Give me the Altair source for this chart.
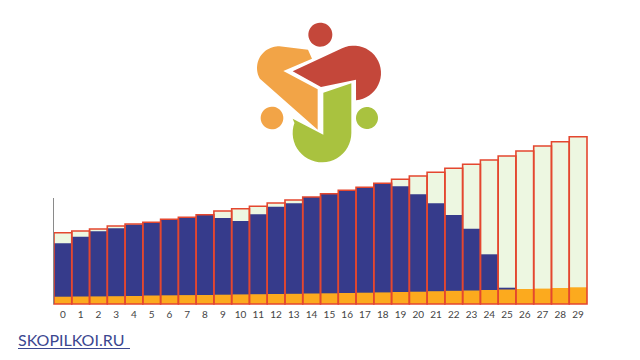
import altair as alt
import numpy as np
import pandas as pd

# ---------------- data (in pixel-like units) -------------
years = list(range(30))
total = [71.3, 73.0, 75.0, 78.0, 80.0, 81.7, 84.7, 86.7, 89.3, 93.0,
         95.3, 97.7, 101.0, 104.0, 107.0, 110.3, 113.7, 116.7, 120.7, 124.7,
         128.0, 131.7, 135.7, 139.7, 144.0, 148.0, 153.0, 158.0, 162.3, 167.3]
blue = [60.7, 67.3, 72.7, 75.7, 79.5, 81.7, 84.7, 86.7, 89.3, 86.0,
        83.0, 89.7, 97.3, 100.7, 107.0, 110.3, 113.7, 116.7, 120.7, 117.7,
        109.7, 100.7, 89.0, 75.3, 49.7, 16.3, 0, 0, 0, 0]
orange = [7.3, 7.5, 7.6, 7.8, 8.0, 8.5, 8.7, 8.9, 9.0, 9.3,
          9.6, 9.8, 10.0, 10.2, 10.5, 10.7, 11.0, 11.3, 11.6, 12.0,
          12.3, 12.8, 13.2, 13.5, 14.0, 14.5, 15.0, 15.4, 16.0, 16.7]

site_text = "SKOPILKOI.RU"

df = pd.DataFrame({"k": years, "total": total, "blue": blue, "orange": orange})
one = pd.DataFrame({"v": [0]})

# ---------------- logo shapes (decoration, sketch units) -------------
CX, CY, H = 322.0, 92.0, 75.0   # logo centre and half span in pixels


def arc(cx, cy, r, a0, a1, n=28):
    a = np.radians(np.linspace(a0, a1, n))
    return list(zip(cx + r * np.cos(a), cy + r * np.sin(a)))


def sub(pts):
    out = []
    for zx, zy in pts:
        px = 252 + zx / 3.0
        py = 18 + zy / 3.0
        out.append(f"{(px - CX) / H:.4f} {(py - CY) / H:.4f}")
    return "M" + " L".join(out) + " Z"


red_pts = ([(122, 160)] + arc(305, 165, 82, -115, 85)
           + [(312, 185), (207, 207)])
orange_pts = ([(168, 95)] + arc(80, 150, 65, -88, -210)
              + [(197, 335), (197, 214), (94, 159), (180, 122)])
green_pts = ([(214, 224), (298, 196), (298, 345)] + arc(210, 345, 88, 0, 200)
             + [(122, 302), (214, 350)])

red_path = sub(red_pts) + " " + sub(arc(205, 50, 36, 0, 360, 40))
orange_path = sub(orange_pts) + " " + sub(arc(60, 300, 34, 0, 360, 40))
green_path = sub(green_pts) + " " + sub(arc(345, 300, 33, 0, 360, 40))

LOGO_X, LOGO_Y = CX - 54, CY - 134
LOGO_SIZE = (2 * H) ** 2


def logo_part(path, color):
    return alt.Chart(one).mark_point(
        shape=path, size=LOGO_SIZE, filled=True, fill=color, opacity=1, strokeOpacity=0
    ).encode(x=alt.value(LOGO_X), y=alt.value(LOGO_Y))


# ---------------- chart -------------
xenc = alt.X(
    "k:O",
    scale=alt.Scale(paddingInner=0, paddingOuter=0),
    axis=alt.Axis(title=None, labelAngle=0, domain=False, ticks=False, grid=False,
                  labelPadding=5, labelFontSize=10, labelColor="#444444", labelFont="Lato"),
)
yscale = alt.Scale(domain=[0, 170], nice=False, zero=True)

base = alt.Chart(df)
green_bars = base.mark_bar(color="#edf7e1").encode(
    x=xenc, y=alt.Y("total:Q", scale=yscale, axis=None))
blue_bars = base.mark_bar(color="#363b8b").encode(
    x=xenc, y=alt.Y("blue:Q", scale=yscale, axis=None))
orange_bars = base.mark_bar(color="#fcaa1e").encode(
    x=xenc, y=alt.Y("orange:Q", scale=yscale, axis=None))
outline = base.mark_bar(fillOpacity=0, stroke="#e4472f", strokeWidth=1.6).encode(
    x=xenc, y=alt.Y("total:Q", scale=yscale, axis=None))

left_axis = alt.Chart(one).mark_rule(color="#8a8a8a", strokeWidth=1).encode(
    x=alt.value(-0.5), y=alt.value(64), y2=alt.value(170))

site = alt.Chart(one).mark_text(
    text=site_text, align="left", baseline="alphabetic", fontSize=16,
    font="Lato", color="#3b4790"
).encode(x=alt.value(-36), y=alt.value(212))
underline = alt.Chart(one).mark_rule(color="#3b4790", strokeWidth=1).encode(
    x=alt.value(-36), x2=alt.value(76), y=alt.value(214.5))

chart = alt.layer(
    green_bars, blue_bars, orange_bars, outline, left_axis,
    logo_part(orange_path, "#f2a447"), logo_part(red_path, "#c4473a"),
    logo_part(green_path, "#a9c23f"), site, underline
).properties(
    width=533, height=170,
    padding={"left": 54, "top": 134, "right": 53, "bottom": 56},
    autosize="none", background="white"
).configure_view(stroke=None)

chart.save("out.html", embed_options={"renderer": "svg", "actions": False})
